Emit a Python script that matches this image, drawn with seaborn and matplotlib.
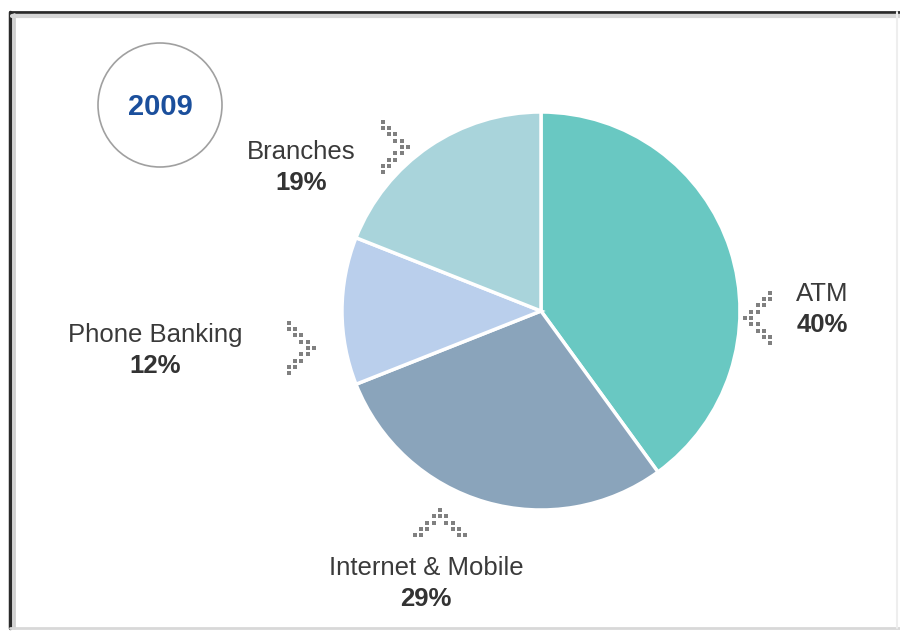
import seaborn as sns
import matplotlib.pyplot as plt
from matplotlib.patches import Circle
import numpy as np

# data (2009 channel split)
channels = ['ATM', 'Internet & Mobile', 'Phone Banking', 'Branches']
shares = [40, 29, 12, 19]
colors = ['#69C8C2', '#8AA4BB', '#BACFEC', '#A9D4DB']
year = '2009'

sns.set_theme(style='white')
plt.rcParams['font.family'] = ['Liberation Sans', 'DejaVu Sans']

H = 631
fig = plt.figure(figsize=(9, 6.31), dpi=100)
ax = fig.add_axes([0, 0, 1, 1])

def Y(y):
    # pixel row -> data y (origin bottom)
    return H - y

ax.pie(shares, colors=colors, startangle=90, counterclock=False,
       center=(541, Y(311)), radius=199,
       wedgeprops=dict(edgecolor='white', linewidth=2.5))

# labels: name + bold percentage
label_pos = {'ATM': (822, 294), 'Internet & Mobile': (426, 568),
             'Phone Banking': (155, 335), 'Branches': (301, 152)}
for name, val in zip(channels, shares):
    x, y = label_pos[name]
    ax.text(x, Y(y), name, ha='center', va='center', fontsize=18.5, color='#3a3a3a')
    ax.text(x, Y(y + 31), f'{val}%', ha='center', va='center', fontsize=18.5,
            color='#333333', fontweight='bold')

# dotted chevrons: tip at (tx, ty), arm points back along direction
def chevron(tx, ty, direction, step=6.3):
    along, perp = [], []
    for c in range(5):
        offs = {0} if c == 0 else {c, -c, c - 1, -(c - 1)}
        for p in offs:
            along.append(c * step)
            perp.append(p * step)
    along, perp = np.array(along), np.array(perp)
    if direction == 'right':     # ">" tip on the right
        dx, dy = -along, perp
    elif direction == 'left':    # "<"
        dx, dy = along, perp
    else:                        # "^"
        dx, dy = perp, -along
    ax.scatter(tx + dx, Y(ty) + dy, marker='s', s=6,
               color='#808080', linewidths=0, zorder=5)

chevron(408, 147, 'right')
chevron(314, 348, 'right')
chevron(745, 318, 'left')
chevron(440, 510, 'up')

# year badge
ax.add_patch(Circle((160, Y(105)), 62, facecolor='white', edgecolor='#a0a0a0', lw=1.2))
ax.text(160, Y(107), year, ha='center', va='center', fontsize=21,
        fontweight='bold', color='#1B4F9C')

# frame
ax.plot([10, 10], [Y(12), Y(628)], color='#2a2a2a', lw=2.5)
ax.plot([10, 900], [Y(12), Y(12)], color='#2a2a2a', lw=2)
ax.plot([14, 14], [Y(14), Y(628)], color='#cfcfcf', lw=2)
ax.plot([12, 900], [Y(16), Y(16)], color='#d6d6d6', lw=3)
ax.plot([10, 900], [Y(628), Y(628)], color='#d8d8d8', lw=2)
ax.plot([897, 897], [Y(12), Y(628)], color='#eeeeee', lw=1.5)

ax.set_xlim(0, 900)
ax.set_ylim(0, H)
ax.set_aspect('equal')
ax.axis('off')

fig.savefig('out.png', dpi=100)
